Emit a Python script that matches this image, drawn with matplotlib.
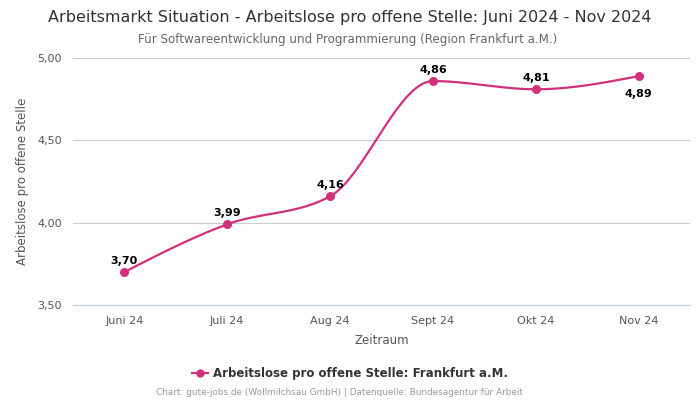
import numpy as np
import matplotlib.pyplot as plt

# Data
months = ['Juni 24', 'Juli 24', 'Aug 24', 'Sept 24', 'Okt 24', 'Nov 24']
values = [3.70, 3.99, 4.16, 4.86, 4.81, 4.89]
labels = ['3,70', '3,99', '4,16', '4,86', '4,81', '4,89']
yticks = [3.5, 4.0, 4.5, 5.0]
ytick_labels = ['3,50', '4,00', '4,50', '5,00']

color = '#d3307c'


def smooth(x, y, n=40):
    # monotone cubic curve through the points (like d3 curveMonotoneX)
    x = np.asarray(x, float)
    y = np.asarray(y, float)
    h = np.diff(x)
    s = np.diff(y) / h
    m = np.zeros_like(y)
    for i in range(1, len(y) - 1):
        p = (s[i - 1] * h[i] + s[i] * h[i - 1]) / (h[i - 1] + h[i])
        m[i] = (np.sign(s[i - 1]) + np.sign(s[i])) * min(abs(s[i - 1]), abs(s[i]), 0.5 * abs(p))
    m[0] = (3 * s[0] - m[1]) / 2
    m[-1] = (3 * s[-1] - m[-2]) / 2
    xs, ys = [], []
    for i in range(len(x) - 1):
        t = np.linspace(0, 1, n)
        h00 = 2 * t**3 - 3 * t**2 + 1
        h10 = t**3 - 2 * t**2 + t
        h01 = -2 * t**3 + 3 * t**2
        h11 = t**3 - t**2
        xs.append(x[i] + t * h[i])
        ys.append(h00 * y[i] + h10 * h[i] * m[i] + h01 * y[i + 1] + h11 * h[i] * m[i + 1])
    return np.concatenate(xs), np.concatenate(ys)


fig = plt.figure(figsize=(7, 4), dpi=100)
ax = fig.add_axes([0.104, 0.2375, 0.882, 0.6175])

x = np.arange(len(months))
sx, sy = smooth(x, values)
ax.plot(sx, sy, color=color, lw=1.6, zorder=3)
ax.scatter(x, values, color=color, s=30, zorder=4)

# Data labels
for i, (v, lab) in enumerate(zip(values, labels)):
    if i == len(values) - 1:
        ax.annotate(lab, (i, v), xytext=(0, -9), textcoords='offset points',
                    ha='center', va='top', fontsize=8, fontweight='bold')
    else:
        ax.annotate(lab, (i, v), xytext=(0, 4.5), textcoords='offset points',
                    ha='center', va='bottom', fontsize=8, fontweight='bold')

ax.set_xlim(-0.5, len(months) - 0.5)
ax.set_ylim(3.5, 5.0)
ax.set_xticks(x)
ax.set_xticklabels(months)
ax.set_yticks(yticks)
ax.set_yticklabels(ytick_labels)
ax.tick_params(axis='both', length=0, labelsize=8, colors='#555555', pad=8)
ax.grid(axis='y', color='#cccccc', lw=0.8)
ax.axhline(3.5, color='#ccd6eb', lw=1, clip_on=False, zorder=2)
ax.set_axisbelow(True)
for s in ax.spines.values():
    s.set_visible(False)

ax.set_xlabel('Zeitraum', fontsize=8.5, color='#555555', labelpad=6)
ax.set_ylabel('Arbeitslose pro offene Stelle', fontsize=8.5, color='#555555', labelpad=6)

# Titles
fig.text(0.5, 0.957, 'Arbeitsmarkt Situation - Arbeitslose pro offene Stelle: Juni 2024 - Nov 2024',
         ha='center', va='center', fontsize=11.5, color='#333333')
fig.text(0.497, 0.902, 'Für Softwareentwicklung und Programmierung (Region Frankfurt a.M.)',
         ha='center', va='center', fontsize=8.6, color='#666666')

# Legend
leg = fig.legend(handles=[plt.Line2D([], [], color=color, marker='o', markersize=5, lw=1.6)],
                 labels=['Arbeitslose pro offene Stelle: Frankfurt a.M.'],
                 loc='center', bbox_to_anchor=(0.5, 0.067), frameon=False,
                 handlelength=1.3, handletextpad=0.4,
                 prop={'weight': 'bold', 'size': 8.5})
for t in leg.get_texts():
    t.set_color('#333333')

fig.text(0.485, 0.019, 'Chart: gute-jobs.de (Wollmilchsau GmbH) | Datenquelle: Bundesagentur für Arbeit',
         ha='center', va='center', fontsize=6.4, color='#999999')

plt.savefig('out.png', dpi=100)
